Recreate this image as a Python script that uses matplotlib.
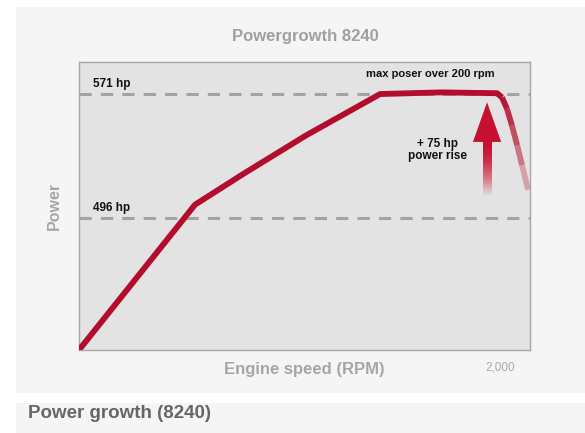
import matplotlib.pyplot as plt
import numpy as np
from matplotlib.patches import Rectangle, Polygon
from matplotlib.collections import LineCollection

# data
rpm = [0, 551, 785, 1079, 1430, 1717, 1985, 2009, 2033, 2056, 2081, 2104, 2133]
hp = [416, 504, 523, 546, 571, 572, 571.5, 569, 562, 552, 540, 528, 513]
ref_levels = [571, 496]
ref_labels = ['571 hp', '496 hp']
x_ticks = [2000]
x_ticklabels = ['2,000']
arrow_x = 1938
arrow_from = 509
arrow_to = 566
fade_start = 6  # index where the curve starts to fade out

red = '#b30c2c'
plt.rcParams['font.family'] = ['Liberation Sans', 'DejaVu Sans']

fig = plt.figure(figsize=(5.85, 4.33), dpi=100)
fig.patch.set_facecolor('white')
W, H = 585, 433
# background panels
fig.add_artist(Rectangle((16 / W, 1 - 393 / H), 569 / W, 386 / H, transform=fig.transFigure,
                         facecolor='#f5f5f5', edgecolor='none', zorder=-5))
fig.add_artist(Rectangle((16 / W, 0), 569 / W, 30 / H, transform=fig.transFigure,
                         facecolor='#f5f5f5', edgecolor='none', zorder=-5))

ax = fig.add_axes([79 / W, 1 - 350 / H, 451 / W, 288 / H])
ax.set_facecolor('#e3e3e3')
for s in ax.spines.values():
    s.set_color('#a6a6a6')
    s.set_linewidth(1)

for lv, lb in zip(ref_levels, ref_labels):
    ax.axhline(lv, color='#a3a3a3', lw=2.2, ls=(0, (4, 3)), zorder=1)
    ax.text(67, lv + 2.5, lb, fontsize=8.5, fontweight='bold', color='#111111', va='bottom')

# main curve
ax.plot(rpm[:fade_start + 1], hp[:fade_start + 1], color=red, lw=4.2,
        solid_capstyle='round', solid_joinstyle='round', zorder=3)
# fading tail
pts = np.column_stack([rpm[fade_start:], hp[fade_start:]])
segs = [pts[i:i + 2] for i in range(len(pts) - 1)]
n = len(segs)
cols = [(0.70, 0.05, 0.17, 1 - 0.7 * (i / (n - 1)) ** 1.6) for i in range(n)]
ax.add_collection(LineCollection(segs, colors=cols, linewidths=4.2, capstyle='butt', zorder=3))

# arrow: gradient shaft + head
head_base = 542
grad = np.zeros((100, 1, 4))
grad[:, 0, :3] = (0.78, 0.06, 0.18)
grad[:, 0, 3] = 1 - np.linspace(0, 1, 100) ** 1.8
ax.imshow(grad, extent=[arrow_x - 19.5, arrow_x + 19.5, arrow_from, head_base], origin='upper',
          aspect='auto', zorder=2)
ax.add_patch(Polygon([[arrow_x - 67, head_base], [arrow_x + 67, head_base], [arrow_x, arrow_to]],
                     closed=True, facecolor='#c5102f', edgecolor='none', zorder=2))
ax.set_xlim(0, 2142)
ax.set_ylim(416, 590.4)

ax.text(1705, 537, '+ 75 hp\npower rise', fontsize=8.5, fontweight='bold', color='#111111',
        ha='center', va='center', linespacing=1.0)
ax.text(1667, 583, 'max poser over 200 rpm', fontsize=8, fontweight='bold', color='#111111',
        ha='center', va='center')

ax.set_xticks(x_ticks)
ax.set_xticklabels(x_ticklabels, fontsize=8.5, color='#aaaaaa')
ax.set_yticks([])
ax.tick_params(axis='x', length=0, pad=8)
ax.set_xlabel('Engine speed (RPM)', fontsize=12, fontweight='bold', color='#a6a6a6', va='center')
ax.xaxis.set_label_coords(0.5, -0.066)
ax.set_ylabel('Power', fontsize=11.5, fontweight='bold', color='#a6a6a6', labelpad=12)

fig.text(305 / W, 1 - 37 / H, 'Powergrowth 8240', fontsize=12, fontweight='bold',
         color='#a0a0a0', ha='center', va='center')
fig.text(28 / W, 1 - 414 / H, 'Power growth (8240)', fontsize=13.5, fontweight='bold',
         color='#666666', ha='left', va='center')

fig.savefig('out.png', dpi=100)
